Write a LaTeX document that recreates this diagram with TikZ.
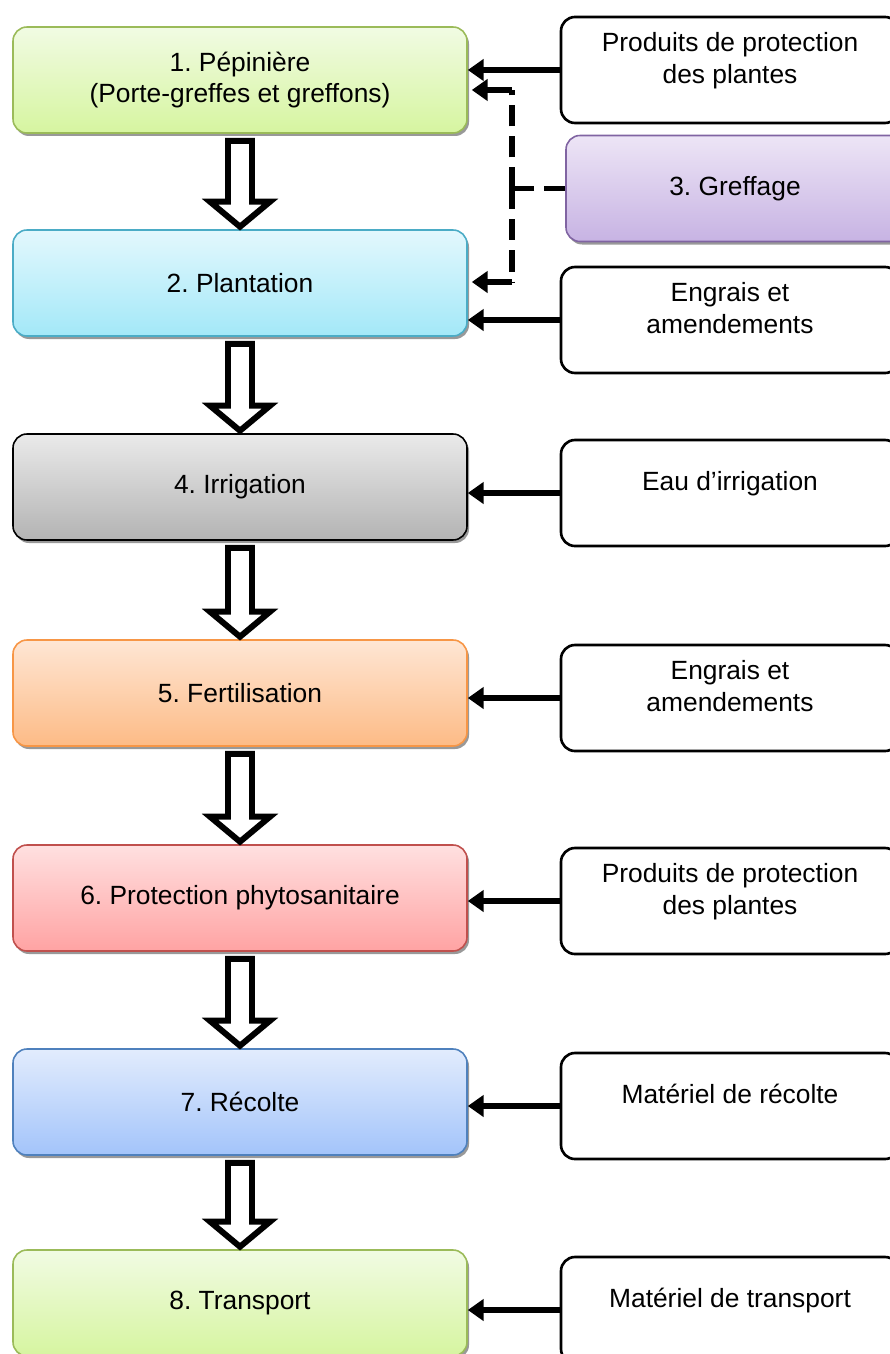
\documentclass[tikz,border=0pt]{standalone}
\usepackage{fontspec}
\setmainfont{Liberation Sans}
\usepackage{tikz}
\usetikzlibrary{arrows.meta,shadows,calc}
\frenchspacing

\definecolor{vertbord}{HTML}{9BBB59}
\definecolor{verthaut}{HTML}{F1FBE3}
\definecolor{vertbas}{HTML}{D6F5A0}
\definecolor{cyanbord}{HTML}{4BACC6}
\definecolor{cyanhaut}{HTML}{E3F8FD}
\definecolor{cyanbas}{HTML}{A3E8F8}
\definecolor{grishaut}{HTML}{EAEAEA}
\definecolor{grisbas}{HTML}{B3B3B3}
\definecolor{orangebord}{HTML}{F79646}
\definecolor{orangehaut}{HTML}{FEE6D4}
\definecolor{orangebas}{HTML}{FDBB86}
\definecolor{rougebord}{HTML}{C0504D}
\definecolor{rougehaut}{HTML}{FFE0E0}
\definecolor{rougebas}{HTML}{FFA3A3}
\definecolor{bleubord}{HTML}{4F81BD}
\definecolor{bleuhaut}{HTML}{E2ECFD}
\definecolor{bleubas}{HTML}{A3C4FA}
\definecolor{violetbord}{HTML}{8064A2}
\definecolor{violethaut}{HTML}{EDE5F6}
\definecolor{violetbas}{HTML}{C7B3E3}

\tikzset{
	etape/.style = {rounded corners=0.28cm, line width=0.9pt, minimum width=9.08cm,
		minimum height=2.12cm, align=center, font=\fontsize{15}{17.8}\selectfont,
		drop shadow={shadow xshift=0.04cm, shadow yshift=-0.06cm, fill=black!40, opacity=1}},
	intrant/.style = {draw, rounded corners=0.28cm, line width=1.5pt, fill=white,
		minimum width=6.76cm, minimum height=2.12cm, align=center,
		font=\fontsize{15}{17.8}\selectfont},
	fleche/.style = {line width=3.2pt, -{Triangle[length=9pt,width=12pt]}},
	pointille/.style = {line width=3.2pt, dash pattern=on 0.42cm off 0.2cm},
	creuse/.style = {line width=3.4pt, fill=white, line join=miter}
}

% fleche creuse entre deux etapes
\newcommand{\flechecreuse}[2]{
	\draw [creuse] ($(#1.south)+(-0.24,-0.14)$) -- ($(#2.north)+(-0.24,0.55)$)
		-- ($(#2.north)+(-0.6,0.55)$) -- ($(#2.north)+(0,0.05)$)
		-- ($(#2.north)+(0.6,0.55)$) -- ($(#2.north)+(0.24,0.55)$)
		-- ($(#1.south)+(0.24,-0.14)$) -- cycle;
}

\begin{document}
\begin{tikzpicture}
	\useasboundingbox (0,0) rectangle (17.78,-27.08);

	% etapes
	\node (b1) at (4.8,-1.6) [etape, draw=vertbord, top color=verthaut, bottom color=vertbas] {1. Pépinière\\(Porte-greffes et greffons)};
	\node (b2) at (4.8,-5.66) [etape, draw=cyanbord, top color=cyanhaut, bottom color=cyanbas] {2. Plantation};
	\node (b4) at (4.8,-9.74) [etape, draw=black, top color=grishaut, bottom color=grisbas] {4. Irrigation};
	\node (b5) at (4.8,-13.86) [etape, draw=orangebord, top color=orangehaut, bottom color=orangebas] {5. Fertilisation};
	\node (b6) at (4.8,-17.96) [etape, draw=rougebord, top color=rougehaut, bottom color=rougebas] {6. Protection phytosanitaire};
	\node (b7) at (4.8,-22.04) [etape, draw=bleubord, top color=bleuhaut, bottom color=bleubas] {7. Récolte};
	\node (b8) at (4.8,-26.06) [etape, draw=vertbord, top color=verthaut, bottom color=vertbas] {8. Transport};

	% greffage
	\node (g) at (14.7,-3.77) [etape, minimum width=6.76cm, draw=violetbord, top color=violethaut, bottom color=violetbas] {3. Greffage};

	% intrants
	\node (r1) at (14.6,-1.4) [intrant] {Produits de protection\\des plantes\\[-4pt]};
	\node (r2) at (14.6,-6.4) [intrant] {Engrais et\\amendements\\[-4pt]};
	\node (r4) at (14.6,-9.86) [intrant] {Eau d’irrigation\\[-4pt]};
	\node (r5) at (14.6,-13.96) [intrant] {Engrais et\\amendements\\[-4pt]};
	\node (r6) at (14.6,-18.02) [intrant] {Produits de protection\\des plantes\\[-4pt]};
	\node (r7) at (14.6,-22.12) [intrant] {Matériel de récolte\\[-4pt]};
	\node (r8) at (14.6,-26.2) [intrant] {Matériel de transport\\[-4pt]};

	% fleches creuses
	\flechecreuse{b1}{b2}
	\flechecreuse{b2}{b4}
	\flechecreuse{b4}{b5}
	\flechecreuse{b5}{b6}
	\flechecreuse{b6}{b7}
	\flechecreuse{b7}{b8}

	% intrants vers etapes
	\draw [fleche] (r1.west) -- (r1.west -| b1.east);
	\draw [fleche] (r2.west) -- (r2.west -| b2.east);
	\draw [fleche] (r4.west) -- (r4.west -| b4.east);
	\draw [fleche] (r5.west) -- (r5.west -| b5.east);
	\draw [fleche] (r6.west) -- (r6.west -| b6.east);
	\draw [fleche] (r7.west) -- (r7.west -| b7.east);
	\draw [fleche] (r8.west) -- (r8.west -| b8.east);

	% greffage (pointille)
	\coordinate (coude) at (10.24,-3.77);
	\coordinate (haut) at (10.24,-1.8);
	\coordinate (bas) at (10.24,-5.64);
	\draw [pointille] (g.west) -- (coude);
	\draw [pointille] (coude) -- (haut);
	\draw [pointille] (coude) -- (bas);
	\draw [fleche] (haut) -- ($(haut -| b1.east)+(0.08,0)$);
	\draw [fleche] (bas) -- ($(bas -| b2.east)+(0.08,0)$);
\end{tikzpicture}
\end{document}
